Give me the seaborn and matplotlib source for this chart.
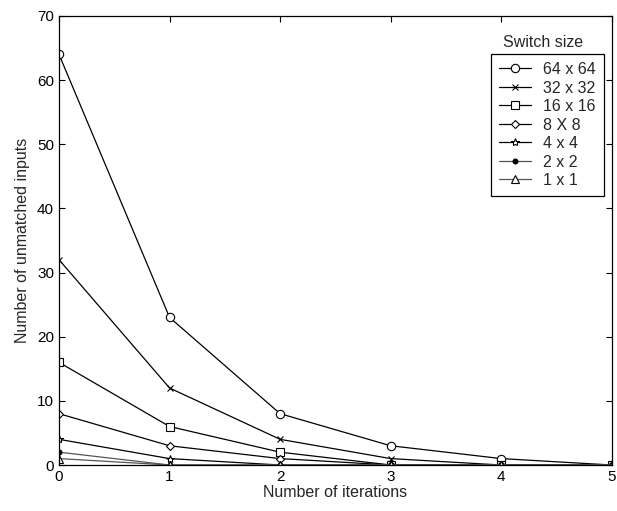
import matplotlib
matplotlib.use("Agg")
import matplotlib.pyplot as plt
import seaborn as sns
import pandas as pd
from matplotlib.lines import Line2D

iterations = [0, 1, 2, 3, 4, 5]
labels = ["64 x 64", "32 x 32", "16 x 16", "8 X 8", "4 x 4", "2 x 2", "1 x 1"]
s64 = [64, 23, 8, 3, 1, 0]
s32 = [32, 12, 4, 1, 0, 0]
s16 = [16, 6, 2, 0, 0, 0]
s8 = [8, 3, 1, 0, 0, 0]
s4 = [4, 1, 0, 0, 0, 0]
s2 = [2, 0, 0, 0, 0, 0]
s1 = [1, 0, 0, 0, 0, 0]
series = [s64, s32, s16, s8, s4, s2, s1]

sns.set_style("ticks")
plt.rcParams['font.family'] = ['Liberation Sans', 'DejaVu Sans']

fig = plt.figure(figsize=(6.17, 5.11), dpi=100)
ax = fig.add_axes([0.0956, 0.090, 0.896, 0.879])

styles = [
    dict(marker='o', ms=6, mfc='white', color='black'),
    dict(marker='x', ms=4.5, mfc='black', color='black'),
    dict(marker='s', ms=6, mfc='white', color='black'),
    dict(marker='D', ms=4.5, mfc='white', color='black'),
    dict(marker='*', ms=6, mfc='white', color='black'),
    dict(marker='o', ms=3.5, mfc='black', color='#555555'),
    dict(marker='^', ms=5.5, mfc='white', color='#555555'),
]

handles = []
for lab, vals, st in zip(labels, series, styles):
    df = pd.DataFrame({"it": iterations, "val": vals})
    sns.lineplot(data=df, x="it", y="val", ax=ax, color=st['color'], lw=0.9,
                 marker=st['marker'], markersize=st['ms'], markerfacecolor=st['mfc'],
                 markeredgecolor='black', markeredgewidth=0.8, legend=False)
    handles.append(Line2D([], [], color=st['color'], lw=0.9, marker=st['marker'],
                          markersize=st['ms'], markerfacecolor=st['mfc'],
                          markeredgecolor='black', markeredgewidth=0.8, label=lab))

ax.set_xlim(0, 5)
ax.set_ylim(0, 70)
ax.set_xticks(range(0, 6))
ax.set_yticks(range(0, 71, 10))
ax.tick_params(direction='in', top=True, right=True, length=4, width=0.8,
               labelsize=11, colors='black')
for sp in ax.spines.values():
    sp.set_visible(True)
    sp.set_linewidth(0.9)
    sp.set_color('black')
ax.set_xlabel("Number of iterations", fontsize=11.5, labelpad=1)
ax.set_ylabel("Number of unmatched inputs", fontsize=11.5, labelpad=5)

leg = ax.legend(handles=handles, loc='upper right', bbox_to_anchor=(0.986, 0.915),
                fontsize=11.5, frameon=True, fancybox=False, edgecolor='black',
                framealpha=1, handlelength=2.0, handletextpad=0.75,
                borderpad=0.5, labelspacing=0.22, borderaxespad=0)
leg.get_frame().set_linewidth(0.9)
ax.text(0.875, 0.925, "Switch size", transform=ax.transAxes, ha='center',
        va='bottom', fontsize=11.5)

fig.savefig("out.png", dpi=100)
